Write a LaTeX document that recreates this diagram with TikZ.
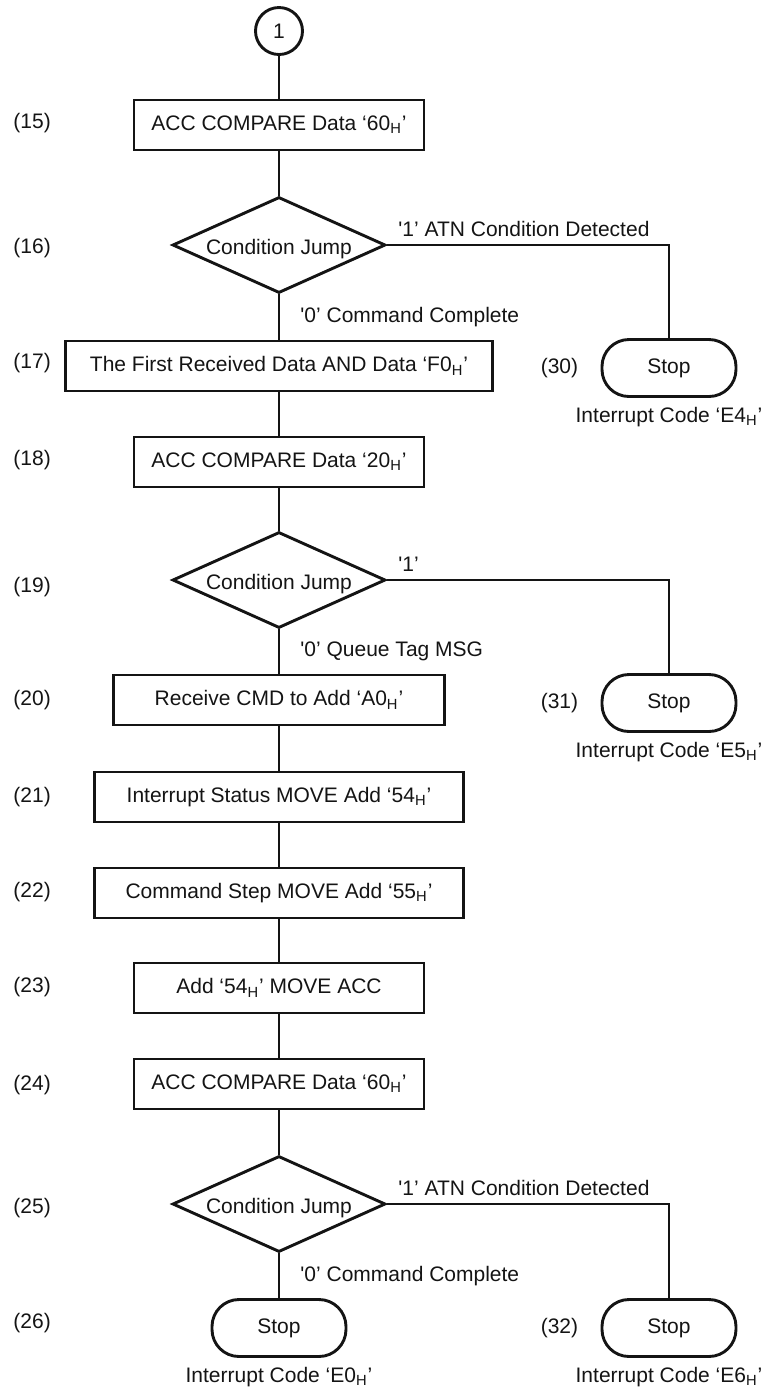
\documentclass[tikz,border=0pt]{standalone}
\usepackage{fontspec}
\setmainfont{Liberation Sans}
\usepackage{tikz}
\usetikzlibrary{shapes.geometric,positioning}
\definecolor{flowInk}{HTML}{141414}
\newcommand{\hexq}[1]{‘#1\textsubscript{H}’}
\newcommand{\bitq}[1]{\textquotesingle#1’}

\begin{document}
\begin{tikzpicture}[
x=0.5pt,y=-0.5pt,
line width=1.45pt,
color=flowInk,
every node/.style={font=\fontsize{10.5pt}{12pt}\selectfont,inner sep=0pt},
procbox/.style={draw,rectangle,minimum height=25pt},
decision/.style={draw,diamond,minimum width=106.5pt,minimum height=48pt,
  label={[yshift=-2pt]center:Condition Jump}},
stopbox/.style={draw,rectangle,rounded corners=13.5pt,minimum width=67pt,minimum height=28.5pt},
connector/.style={draw,circle,minimum size=23.5pt},
steplbl/.style={anchor=west},
branchlbl/.style={anchor=south west,xshift=5pt,yshift=3.5pt},
flowlbl/.style={anchor=west,xshift=10pt},
]
\useasboundingbox (0,0) rectangle (765,1389);

\node[connector] (c1) at (279,31) {1};
\node[procbox,minimum width=145pt] (b15) at (279,125) {ACC COMPARE Data \hexq{60}};
\node[decision] (d16) at (279,245) {};
\node[procbox,minimum width=213.5pt] (b17) at (279,366) {The First Received Data AND Data \hexq{F0}};
\node[procbox,minimum width=145pt] (b18) at (279,462) {ACC COMPARE Data \hexq{20}};
\node[decision] (d19) at (279,580) {};
\node[procbox,minimum width=165.5pt] (b20) at (279,700) {Receive CMD to Add \hexq{A0}};
\node[procbox,minimum width=184.5pt] (b21) at (279,797) {Interrupt Status MOVE Add \hexq{54}};
\node[procbox,minimum width=184.5pt] (b22) at (279,893) {Command Step MOVE Add \hexq{55}};
\node[procbox,minimum width=145pt] (b23) at (279,988) {Add \hexq{54} MOVE ACC};
\node[procbox,minimum width=145pt] (b24) at (279,1084) {ACC COMPARE Data \hexq{60}};
\node[decision] (d25) at (279,1204) {};
\node[stopbox] (s26) at (279,1328) {Stop};

\node[stopbox] (s30) at (669,368) {Stop};
\node[stopbox] (s31) at (669,703) {Stop};
\node[stopbox] (s32) at (669,1328) {Stop};

\node[below=4pt of s30] (i30) {Interrupt Code \hexq{E4}};
\node[below=4pt of s31] (i31) {Interrupt Code \hexq{E5}};
\node[below=4pt of s32] (i32) {Interrupt Code \hexq{E6}};
\node[below=4pt of s26] (i26) {Interrupt Code \hexq{E0}};
\node[left=10.5pt of s30] (n30) {(30)};
\node[left=10.5pt of s31] (n31) {(31)};
\node[left=10.5pt of s32] (n32) {(32)};

\foreach \n/\y in {15/123,16/248,17/363,18/460,19/587,20/700,21/797,22/892,23/987,24/1085,25/1208,26/1323}
  \node[steplbl] (n\n) at (12,\y) {(\n)};

\draw (c1.south) -- (b15.north);
\draw (b15.south) -- (d16.north);
\draw (d16.south) -- node[flowlbl] {\bitq{0} Command Complete} (b17.north);
\draw (d16.east) -| node[branchlbl,pos=0] {\bitq{1} ATN Condition Detected} (s30.north);
\draw (b17.south) -- (b18.north);
\draw (b18.south) -- (d19.north);
\draw (d19.south) -- node[flowlbl] {\bitq{0} Queue Tag MSG} (b20.north);
\draw (d19.east) -| node[branchlbl,pos=0] {\bitq{1}} (s31.north);
\draw (b20.south) -- (b21.north);
\draw (b21.south) -- (b22.north);
\draw (b22.south) -- (b23.north);
\draw (b23.south) -- (b24.north);
\draw (b24.south) -- (d25.north);
\draw (d25.south) -- node[flowlbl] {\bitq{0} Command Complete} (s26.north);
\draw (d25.east) -| node[branchlbl,pos=0] {\bitq{1} ATN Condition Detected} (s32.north);
\end{tikzpicture}
\end{document}
